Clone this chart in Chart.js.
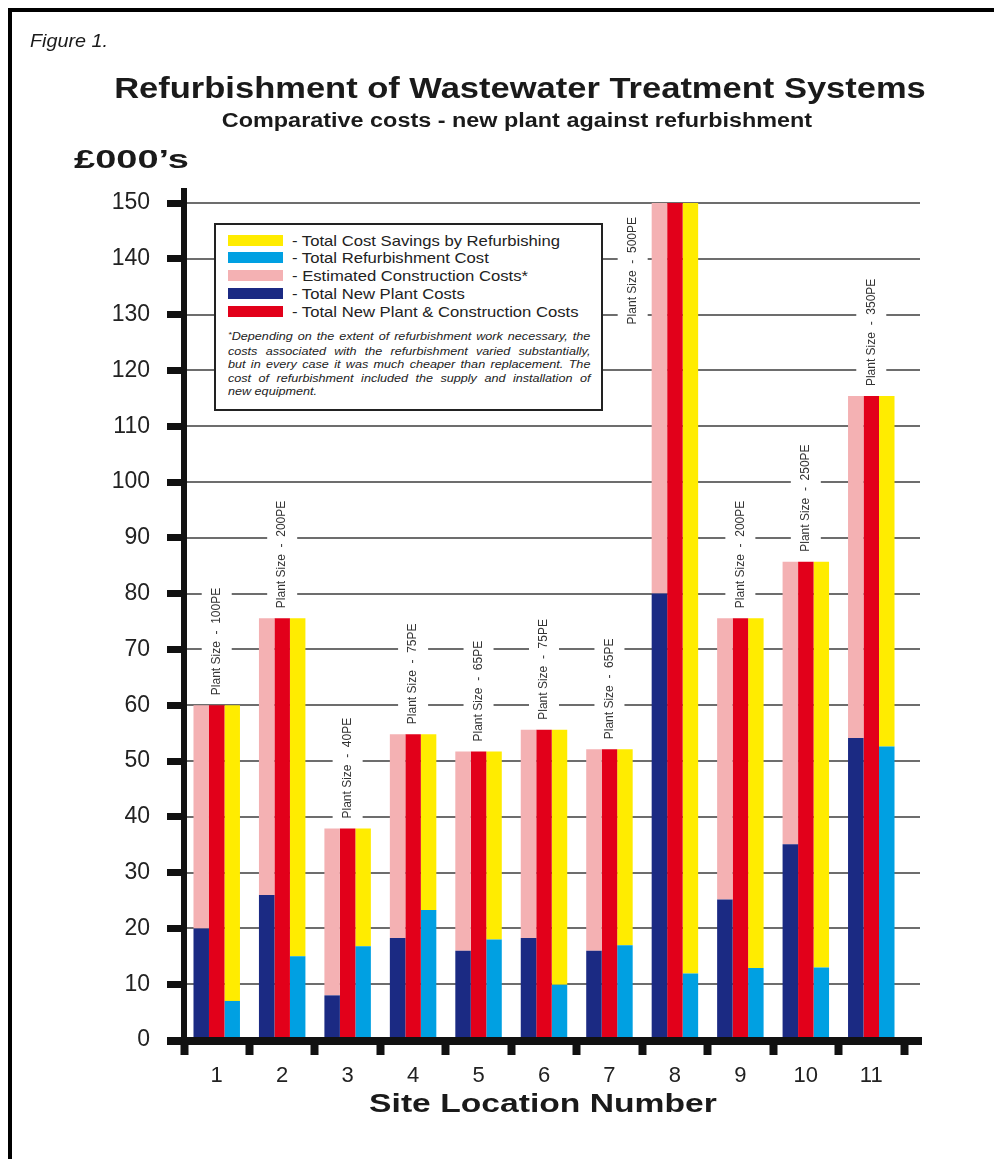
<!DOCTYPE html>
<html>
<head>
<meta charset="utf-8">
<title>Refurbishment of Wastewater Treatment Systems</title>
<script src="https://cdn.jsdelivr.net/npm/chart.js@4.4.1/dist/chart.umd.min.js"></script>
<style>
    html, body { margin: 0; padding: 0; background: #fff; }
    body { position: relative; width: 994px; height: 1159px; overflow: hidden; font-family: "Liberation Sans", Arial, sans-serif; color: #1a1a1a; }
    #frame { position: absolute; left: 8px; top: 8px; width: 1100px; height: 1300px; border-left: 4px solid #000; border-top: 4px solid #000; }
    #chart { position: absolute; left: 0; top: 0; }
    .txt { position: absolute; white-space: nowrap; line-height: 1; }
    .center { transform-origin: center top; }
    .left { transform-origin: left top; }
    #legendBox { position: absolute; left: 214px; top: 223px; width: 389px; height: 188px; box-sizing: border-box; border: 2px solid #222; background: #fff; }
    .sw { position: absolute; left: 12px; width: 55px; height: 11px; }
    .lt { position: absolute; left: 76px; font-size: 15px; line-height: 1; white-space: nowrap; color: #222; transform: scaleX(1.11); transform-origin: left top; }
    #note { position: absolute; left: 12px; top: 105px; width: 302px; font-size: 10.5px; font-style: italic; line-height: 13.5px; color: #222; transform: scaleX(1.2); transform-origin: left top; }
    #note div { text-align: justify; text-align-last: justify; white-space: nowrap; }
    #note div.last { text-align-last: left; }
    #note .ast { font-size: 8px; position: relative; top: -3px; }
</style>
</head>
<body>
<div id="frame"></div>
<canvas id="chart" width="994" height="1159"></canvas>

<div class="txt left" style="left:30px; top:31px; font-size:19px; font-style:italic; transform:scaleX(1.04);">Figure 1.</div>
<div class="txt center" style="left:520px; top:73px; font-size:30px; font-weight:bold; transform:translateX(-50%) scaleX(1.15);">Refurbishment of Wastewater Treatment Systems</div>
<div class="txt center" style="left:517px; top:110px; font-size:20px; font-weight:bold; transform:translateX(-50%) scaleX(1.17);">Comparative costs - new plant against refurbishment</div>
<div class="txt left" style="left:74px; top:147px; font-size:25px; font-weight:bold; transform:scaleX(1.52);">£000’s</div>
<div class="txt center" style="left:543px; top:1090px; font-size:26.5px; font-weight:bold; transform:translateX(-50%) scaleX(1.27);">Site Location Number</div>

<div id="legendBox">
    <div id="legendRows"></div>
    <div id="note">
        <div><span class="ast">*</span>Depending on the extent of refurbishment work necessary, the</div>
        <div>costs associated with the refurbishment varied substantially,</div>
        <div>but in every case it was much cheaper than replacement. The</div>
        <div>cost of refurbishment included the supply and installation of</div>
        <div class="last">new equipment.</div>
    </div>
</div>

<script>
// Site data (£000's)
const sites = ['1', '2', '3', '4', '5', '6', '7', '8', '9', '10', '11'];
const plantSizes = ['100PE', '200PE', '40PE', '75PE', '65PE', '75PE', '65PE', '500PE', '200PE', '250PE', '350PE'];
const newPlantCost = [20, 26, 8, 18.3, 16, 18.3, 16, 80, 25.2, 35.1, 54.1];
const totalNewCost = [60, 75.6, 37.9, 54.8, 51.7, 55.6, 52.1, 150, 75.6, 85.7, 115.4];
const refurbCost = [7, 15, 16.8, 23.3, 18, 9.9, 17, 11.9, 12.9, 13, 52.6];

const yTicks = { min: 0, max: 150, step: 10 };

const colors = {
    navy: '#1b2a83',
    pink: '#f4b1b3',
    red: '#e2001a',
    cyan: '#00a0e2',
    yellow: '#ffec00'
};

// pink sits on top of navy up to the total, yellow on top of cyan up to the total
const constructionCost = totalNewCost.map((t, i) => +(t - newPlantCost[i]).toFixed(1));
const savings = totalNewCost.map((t, i) => +(t - refurbCost[i]).toFixed(1));

const datasets = [
    { label: 'Total New Plant Costs', data: newPlantCost, backgroundColor: colors.navy, stack: 'new' },
    { label: 'Estimated Construction Costs*', data: constructionCost, backgroundColor: colors.pink, stack: 'new' },
    { label: 'Total New Plant & Construction Costs', data: totalNewCost, backgroundColor: colors.red, stack: 'total' },
    { label: 'Total Refurbishment Cost', data: refurbCost, backgroundColor: colors.cyan, stack: 'refurb' },
    { label: 'Total Cost Savings by Refurbishing', data: savings, backgroundColor: colors.yellow, stack: 'refurb' }
];
const legendOrder = [4, 3, 1, 0, 2];

// Legend rows
document.getElementById('legendRows').innerHTML = legendOrder.map((di, r) => {
    const cy = 17 + r * 17.75 - 2;
    return `<div class="sw" style="top:${cy - 5.5}px; background:${datasets[di].backgroundColor}"></div>
            <div class="lt" style="top:${cy - 7.3}px">- ${datasets[di].label}</div>`;
}).join('');

const decor = {
    id: 'decor',
    beforeDatasetsDraw(chart) {
        const { ctx, chartArea, scales: { y } } = chart;
        ctx.save();
        ctx.strokeStyle = '#6d6d6d';
        ctx.lineWidth = 2;
        y.ticks.forEach(t => {
            if (t.value === 0) return;
            const py = Math.round(y.getPixelForValue(t.value));
            ctx.beginPath();
            ctx.moveTo(chartArea.left, py);
            ctx.lineTo(chartArea.right + 16, py);
            ctx.stroke();
        });
        ctx.restore();
    },
    afterDatasetsDraw(chart) {
        const { ctx, chartArea, scales: { x, y } } = chart;
        const first = chart.getDatasetMeta(0).data;

        // Plant size labels, rotated, on a white strip that breaks the grid lines
        ctx.save();
        ctx.font = '12px "Liberation Sans", Arial, sans-serif';
        ctx.textBaseline = 'middle';
        ctx.textAlign = 'left';
        plantSizes.forEach((p, i) => {
            const text = 'Plant Size  -  ' + p;
            const w = ctx.measureText(text).width;
            let cx = x.getPixelForValue(i);
            let bottom = y.getPixelForValue(totalNewCost[i]) - 10;
            if (totalNewCost[i] >= yTicks.max) {
                const bar = first[i];
                cx = bar.x - bar.width / 2 - 19;
                bottom = chartArea.top + 14 + w;
            }
            ctx.fillStyle = '#fff';
            ctx.fillRect(cx - 15, bottom - w - 4, 30, w + 8);
            ctx.save();
            ctx.translate(cx, bottom);
            ctx.rotate(-Math.PI / 2);
            ctx.fillStyle = '#333';
            ctx.fillText(text, 0, 0);
            ctx.restore();
        });
        ctx.restore();

        // Heavy axis lines
        ctx.save();
        ctx.fillStyle = '#111';
        const x0 = chartArea.left, yb = chartArea.bottom;
        ctx.fillRect(x0 - 3, chartArea.top - 15, 6, yb - chartArea.top + 15);
        ctx.fillRect(x0 - 17, yb - 3, chartArea.right + 18 - (x0 - 17), 8);
        ctx.restore();
    }
};

new Chart(document.getElementById('chart'), {
    type: 'bar',
    data: { labels: sites, datasets },
    options: {
        responsive: false,
        animation: false,
        layout: { padding: { left: 0, top: 203, right: 90, bottom: 59 } },
        datasets: { bar: { barPercentage: 1, categoryPercentage: 0.71, borderWidth: 0 } },
        plugins: { legend: { display: false }, tooltip: { enabled: false }, title: { display: false } },
        scales: {
            x: {
                stacked: true,
                offset: true,
                border: { display: false },
                grid: { offset: true, drawOnChartArea: false, drawTicks: true, tickLength: 15, tickWidth: 8, tickColor: '#111' },
                ticks: { color: '#222', font: { family: '"Liberation Sans", Arial, sans-serif', size: 22 }, padding: 8, maxRotation: 0 },
                afterFit: s => { s.height = 60; }
            },
            y: {
                stacked: true,
                min: yTicks.min,
                max: yTicks.max,
                border: { display: false },
                grid: { drawOnChartArea: false, drawTicks: true, tickLength: 17, tickWidth: 7, tickColor: '#111' },
                ticks: { stepSize: yTicks.step, color: '#222', font: { family: '"Liberation Sans", Arial, sans-serif', size: 23 }, padding: 17 },
                afterFit: s => { s.width = 184; }
            }
        }
    },
    plugins: [decor]
});
</script>
</body>
</html>
